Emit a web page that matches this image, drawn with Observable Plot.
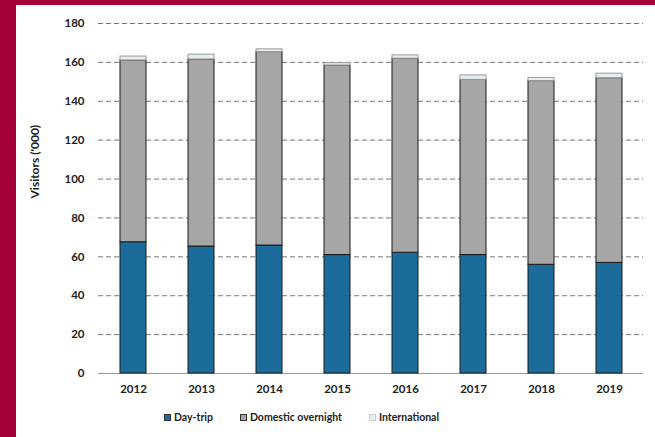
<!DOCTYPE html>
<html>
<head>
<meta charset="utf-8">
<script src="https://cdn.jsdelivr.net/npm/d3@7"></script>
<script src="https://cdn.jsdelivr.net/npm/@observablehq/plot@0.6"></script>
<style>
  html, body { margin: 0; padding: 0; }
  body { width: 655px; height: 437px; background: #a4003a; position: relative; overflow: hidden; font-family: Lato, "Open Sans", sans-serif; }
  #panel { position: absolute; left: 16px; top: 5px; width: 639px; height: 432px; background: #fff; }
  #legend { position: absolute; left: 148px; top: 406px; display: flex; gap: 27px; font-size: 10.5px; font-weight: bold; color: #222; }
  #legend .item { display: flex; align-items: center; gap: 3px; }
  #legend .sw { width: 7px; height: 7px; box-sizing: border-box; }
</style>
</head>
<body>
<div id="panel"><div id="chart"></div><div id="legend"></div></div>
<script>
const years = ["2012","2013","2014","2015","2016","2017","2018","2019"];
const dayTrip = [67.5, 65.3, 65.8, 60.9, 62.1, 60.9, 55.9, 56.9];
const domesticOvernight = [93.5, 96.2, 99.5, 97.5, 99.8, 90.1, 94.5, 95.0];
const international = [2.0, 2.5, 1.4, 1.2, 1.7, 2.3, 1.6, 2.3];
const seriesNames = ["Day-trip", "Domestic overnight", "International"];
const seriesColors = ["#1b6c9b", "#a6a6a6", "#e6eef2"];
const seriesStrokes = ["#1a1a1a", "#1a1a1a", "#9a9a9a"];
const yTicks = [0, 20, 40, 60, 80, 100, 120, 140, 160, 180];

const seriesValues = [dayTrip, domesticOvernight, international];
const rows = [];
seriesNames.forEach((s, i) => years.forEach((y, j) => rows.push({year: y, series: s, value: seriesValues[i][j]})));

const plot = Plot.plot({
  width: 639,
  height: 400,
  marginLeft: 82,
  marginRight: 12,
  marginTop: 18,
  marginBottom: 32,
  style: {fontFamily: "Lato, 'Open Sans', sans-serif", fontSize: "11.5px", fontWeight: "bold", color: "#222", background: "transparent"},
  x: {domain: years, paddingInner: 0.62, paddingOuter: 0.31, label: null, tickSize: 0, tickPadding: 11},
  y: {domain: [0, 180], ticks: yTicks, label: null, tickSize: 0, tickPadding: 14},
  color: {domain: seriesNames, range: seriesColors},
  marks: [
    Plot.ruleY(yTicks.filter(d => d > 0), {stroke: "#777", strokeWidth: 1, strokeDasharray: "5,3"}),
    Plot.ruleY([0], {stroke: "#999", strokeWidth: 1}),
    Plot.barY(rows, Plot.stackY({
      x: "year", y: "value", fill: "series",
      stroke: d => seriesStrokes[seriesNames.indexOf(d.series)],
      strokeWidth: 1,
      order: seriesNames
    })),
    Plot.text(["Visitors ('000)"], {frameAnchor: "left", dx: -63, rotate: -90, fontSize: 12, fontWeight: "bold", fill: "#222"})
  ]
});
document.getElementById("chart").appendChild(plot);

const legend = document.getElementById("legend");
seriesNames.forEach((s, i) => {
  const it = document.createElement("div");
  it.className = "item";
  const sw = document.createElement("span");
  sw.className = "sw";
  sw.style.background = seriesColors[i];
  sw.style.border = "1px solid " + (i < 2 ? "#333" : "#ccc");
  const t = document.createElement("span");
  t.textContent = s;
  it.appendChild(sw); it.appendChild(t);
  legend.appendChild(it);
});
</script>
</body>
</html>
